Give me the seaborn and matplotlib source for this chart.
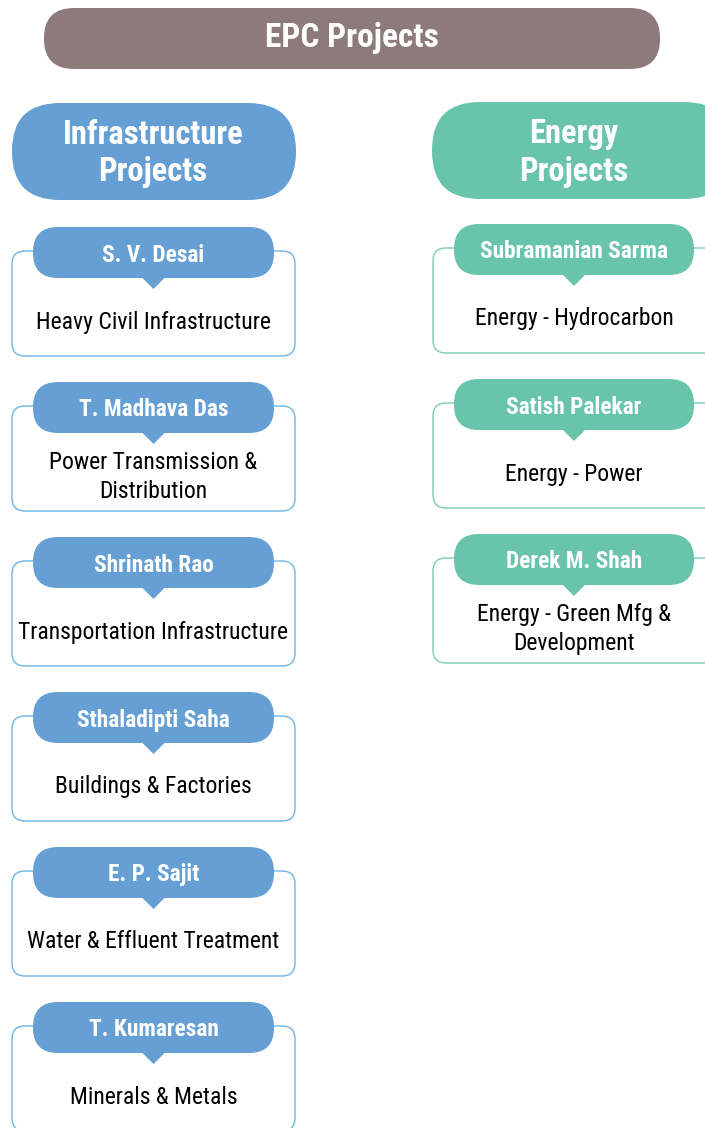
import matplotlib
matplotlib.use("Agg")
import matplotlib.pyplot as plt
import seaborn as sns
from matplotlib import font_manager
from matplotlib.patches import FancyBboxPatch, Polygon

# chart content
title = "EPC Projects"
groups = ["Infrastructure\nProjects", "Energy\nProjects"]
infra_heads = ["S. V. Desai", "T. Madhava Das", "Shrinath Rao",
               "Sthaladipti Saha", "E. P. Sajit", "T. Kumaresan"]
infra_areas = ["Heavy Civil Infrastructure", "Power Transmission &\nDistribution",
               "Transportation Infrastructure", "Buildings & Factories",
               "Water & Effluent Treatment", "Minerals & Metals"]
energy_heads = ["Subramanian Sarma", "Satish Palekar", "Derek M. Shah"]
energy_areas = ["Energy - Hydrocarbon", "Energy - Power",
                "Energy - Green Mfg &\nDevelopment"]

BROWN = "#8C7B7A"
BLUE = "#659FD4"
GREEN = "#68C4AA"
BLUE_EDGE = "#6DB5E4"
GREEN_EDGE = "#7CCAB0"

sns.set_theme(style="white")
names = {f.name for f in font_manager.fontManager.ttflist}
fam = "DejaVu Sans"
for cand in ["Liberation Sans Narrow", "Roboto Condensed", "Open Sans Condensed",
             "Noto Sans", "Liberation Sans"]:
    if cand in names:
        fam = cand
        break
plt.rcParams["font.family"] = [fam, "DejaVu Sans"]

fig = plt.figure(figsize=(7.05, 11.28), dpi=100)
ax = fig.add_axes([0, 0, 1, 1])
ax.set_xlim(0, 705)
ax.set_ylim(1128, 0)
ax.axis("off")


def pill(x, y, w, h, color, r):
    ax.add_patch(FancyBboxPatch((x, y), w, h,
                                boxstyle=f"round,pad=0,rounding_size={r}",
                                fc=color, ec="none", zorder=3))


# top banner
pill(44, 8, 616, 61, BROWN, 30)
ax.text(352, 38, title, color="white", fontsize=24, fontweight="bold",
        ha="center", va="center", zorder=4)

# group pills
pill(12, 103, 284, 97, BLUE, 48)
ax.text(153, 154, groups[0], color="white", fontsize=23.5, fontweight="bold",
        ha="center", va="center", linespacing=1.2, zorder=4)
pill(432, 102, 300, 97, GREEN, 48)
ax.text(574, 153, groups[1], color="white", fontsize=23.5, fontweight="bold",
        ha="center", va="center", linespacing=1.2, zorder=4)


def column(heads, areas, x0, x1, hx0, hx1, top, color, edge):
    cx = (hx0 + hx1) / 2
    for i, (h, a) in enumerate(zip(heads, areas)):
        y = top + i * 155
        ax.add_patch(FancyBboxPatch((x0, y + 24), x1 - x0, 105,
                                    boxstyle="round,pad=0,rounding_size=13",
                                    fc="white", ec=edge, lw=1.0, zorder=2))
        pill(hx0, y, hx1 - hx0, 51, color, 25)
        ax.add_patch(Polygon([[cx - 12, y + 50], [cx + 12, y + 50], [cx, y + 62]],
                             closed=True, fc=color, ec="none", zorder=3))
        ax.text(cx, y + 28, h, color="white", fontsize=16.8, fontweight="bold",
                ha="center", va="center", zorder=4)
        ax.text(cx, y + 95, a, color="black",
                fontsize=17, ha="center", va="center", linespacing=1.32, zorder=4)


column(infra_heads, infra_areas, 12, 295, 33, 274, 227, BLUE, BLUE_EDGE)
column(energy_heads, energy_areas, 433, 720, 454, 694, 224, GREEN, GREEN_EDGE)

fig.savefig("out.png", dpi=100, facecolor="white")
